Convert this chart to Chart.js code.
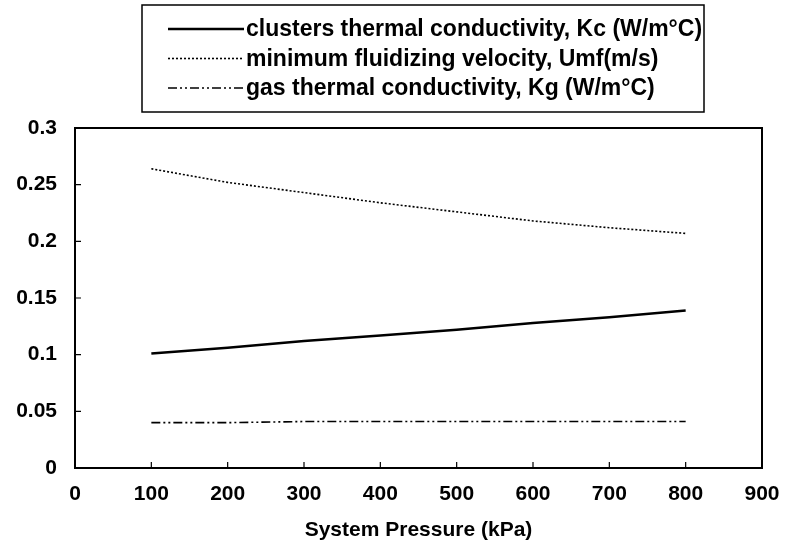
<!DOCTYPE html>
<html>
<head>
<meta charset="utf-8">
<script src="https://cdn.jsdelivr.net/npm/chart.js@4/dist/chart.umd.min.js"></script>
<style>
  html, body { margin: 0; padding: 0; background: #fff; }
  #wrap { width: 785px; height: 554px; }
</style>
</head>
<body>
<div id="wrap"><canvas id="chartPressure" width="785" height="554"></canvas></div>
<script>
// system pressure, kPa
var pressure = [100, 200, 300, 400, 500, 600, 700, 800];
// clusters thermal conductivity, W/m°C
var kcValues = [0.101, 0.106, 0.112, 0.117, 0.122, 0.128, 0.133, 0.139];
// minimum fluidizing velocity, m/s
var umfValues = [0.264, 0.252, 0.243, 0.234, 0.226, 0.218, 0.212, 0.207];
// gas thermal conductivity, W/m°C
var kgValues = [0.040, 0.040, 0.041, 0.041, 0.041, 0.041, 0.041, 0.041];

var seriesLabels = [
  "clusters thermal conductivity, Kc (W/m°C)",
  "minimum fluidizing velocity, Umf(m/s)",
  "gas thermal conductivity, Kg (W/m°C)"
];
var xTitle = "System Pressure (kPa)";

function points(values) {
  return pressure.map(function (p, i) { return { x: p, y: values[i] }; });
}

var fontName = "'Liberation Sans', Arial, sans-serif";

// frame + inward tick marks
var framePlugin = {
  id: "frame",
  afterDatasetsDraw: function (chart) {
    var ctx = chart.ctx;
    var a = chart.chartArea;
    var xs = chart.scales.x;
    var ys = chart.scales.y;
    ctx.save();
    ctx.strokeStyle = "#000";
    ctx.lineWidth = 2;
    ctx.setLineDash([]);
    ctx.strokeRect(a.left, a.top, a.right - a.left, a.bottom - a.top);
    ctx.lineWidth = 1.2;
    ctx.beginPath();
    ys.ticks.forEach(function (t) {
      var y = ys.getPixelForValue(t.value);
      ctx.moveTo(a.left, y);
      ctx.lineTo(a.left + 6, y);
    });
    xs.ticks.forEach(function (t) {
      var x = xs.getPixelForValue(t.value);
      ctx.moveTo(x, a.bottom);
      ctx.lineTo(x, a.bottom - 6);
    });
    ctx.stroke();
    ctx.restore();
  }
};

// boxed legend above the plot
var legendPlugin = {
  id: "boxLegend",
  afterDraw: function (chart) {
    var ctx = chart.ctx;
    var box = { left: 142, top: 5, right: 704, bottom: 112 };
    ctx.save();
    ctx.strokeStyle = "#000";
    ctx.lineWidth = 1.5;
    ctx.setLineDash([]);
    ctx.strokeRect(box.left, box.top, box.right - box.left, box.bottom - box.top);
    ctx.font = "bold 23px " + fontName;
    ctx.fillStyle = "#000";
    ctx.textBaseline = "middle";
    chart.data.datasets.forEach(function (ds, i) {
      var y = 29 + i * 29.5;
      ctx.beginPath();
      ctx.lineWidth = ds.borderWidth;
      ctx.setLineDash(ds.borderDash || []);
      ctx.moveTo(168, y);
      ctx.lineTo(244, y);
      ctx.stroke();
      ctx.setLineDash([]);
      ctx.fillText(ds.label, 246, y + 1);
    });
    ctx.restore();
  }
};

var ctx = document.getElementById("chartPressure");
var chartPressure = new Chart(ctx, {
  type: "line",
  data: {
    datasets: [
      {
        label: seriesLabels[0],
        data: points(kcValues),
        borderColor: "#000",
        borderWidth: 2.5,
        pointRadius: 0,
        tension: 0
      },
      {
        label: seriesLabels[1],
        data: points(umfValues),
        borderColor: "#000",
        borderWidth: 1.6,
        borderDash: [2, 2],
        pointRadius: 0,
        tension: 0
      },
      {
        label: seriesLabels[2],
        data: points(kgValues),
        borderColor: "#000",
        borderWidth: 1.6,
        borderDash: [9, 3, 2, 3, 2, 3],
        pointRadius: 0,
        tension: 0
      }
    ]
  },
  options: {
    responsive: false,
    animation: false,
    layout: {
      padding: { top: 128, right: 23, left: 0, bottom: 0 }
    },
    plugins: {
      legend: { display: false },
      tooltip: { enabled: false }
    },
    scales: {
      x: {
        type: "linear",
        min: 0,
        max: 900,
        grid: { display: false, drawTicks: false },
        border: { display: false },
        ticks: {
          stepSize: 100,
          color: "#000",
          padding: 14,
          maxRotation: 0,
          font: { family: fontName, size: 21, weight: "bold" }
        },
        title: {
          display: true,
          text: xTitle,
          color: "#000",
          padding: { top: 0, bottom: 11 },
          font: { family: fontName, size: 21, weight: "bold" }
        },
        afterFit: function (scale) {
          scale.height = 86;
          scale.paddingLeft = 0;
          scale.paddingRight = 0;
        }
      },
      y: {
        min: 0,
        max: 0.3,
        grid: { display: false, drawTicks: false },
        border: { display: false },
        ticks: {
          stepSize: 0.05,
          color: "#000",
          padding: 18,
          font: { family: fontName, size: 21, weight: "bold" },
          callback: function (v) { return String(Math.round(v * 100) / 100); }
        },
        afterFit: function (scale) { scale.width = 75; }
      }
    }
  },
  plugins: [framePlugin, legendPlugin]
});
</script>
</body>
</html>
